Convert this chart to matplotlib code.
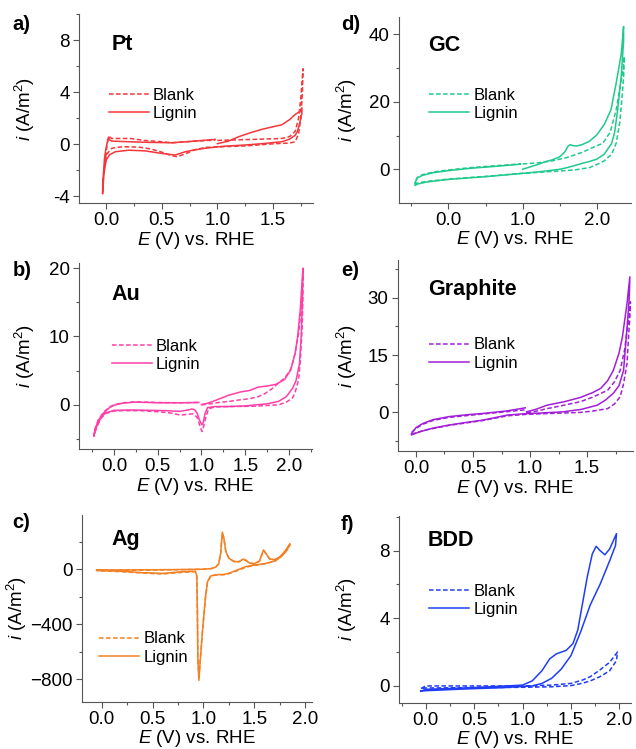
import matplotlib
matplotlib.use("Agg")
import matplotlib.pyplot as plt
from matplotlib.ticker import MultipleLocator, FuncFormatter

plt.rcParams['font.family'] = ['Liberation Sans', 'DejaVu Sans']
plt.rcParams['mathtext.fontset'] = 'custom'
plt.rcParams['mathtext.rm'] = 'Liberation Sans'
plt.rcParams['mathtext.it'] = 'Liberation Sans:italic'
plt.rcParams['mathtext.bf'] = 'Liberation Sans:bold'

# ---------------- data ----------------
series_labels = ["Blank", "Lignin"]
x_label = "$E$ (V) vs. RHE"
y_label = "$i$ (A/m$^2$)"

# Pt
pt_blank_E = [1.00, 1.20, 1.40, 1.58, 1.65, 1.70, 1.73, 1.75, 1.77,
              1.765, 1.75, 1.73, 1.70, 1.65, 1.52, 1.25, 0.90, 0.80, 0.72, 0.64, 0.58, 0.50, 0.40, 0.30, 0.15, 0.05, 0.00, -0.01,
              0.00, 0.015, 0.025, 0.05, 0.22, 0.34, 0.50, 0.59, 0.80, 0.98]
pt_blank_i = [0.30, 0.35, 0.40, 0.45, 0.60, 1.00, 2.00, 3.50, 5.80,
              4.00, 2.00, 0.80, 0.20, 0.10, 0.05, -0.12, -0.23, -0.40, -0.70, -0.95, -0.85, -0.60, -0.35, -0.22, -0.18, -0.30, -0.80, -1.50,
              -0.50, 0.30, 0.60, 0.45, 0.45, 0.30, 0.20, 0.12, 0.25, 0.33]
pt_lignin_E = [1.00, 1.10, 1.19, 1.30, 1.40, 1.50, 1.58, 1.65, 1.70, 1.74, 1.76,
               1.76, 1.74, 1.72, 1.70, 1.65, 1.58, 1.40, 1.25, 1.05, 0.89, 0.78, 0.71, 0.62, 0.55, 0.50, 0.35, 0.20, 0.08, 0.03, 0.00, -0.02, -0.033,
               -0.03, -0.015, 0.00, 0.02, 0.03, 0.05, 0.20, 0.40, 0.59, 0.80, 0.98]
pt_lignin_i = [0.05, 0.25, 0.58, 0.90, 1.15, 1.35, 1.50, 1.90, 2.30, 2.50, 2.80,
               2.40, 1.60, 1.00, 0.70, 0.40, 0.20, 0.05, -0.05, -0.15, -0.30, -0.45, -0.57, -0.82, -0.75, -0.70, -0.50, -0.45, -0.57, -0.80, -1.20, -2.20, -3.80,
               -2.80, -1.00, -0.20, 0.55, 0.35, 0.25, 0.20, 0.15, 0.12, 0.25, 0.38]

# Au
au_blank_E = [1.00, 1.10, 1.20, 1.31, 1.45, 1.55, 1.65, 1.72, 1.81, 1.88, 1.95, 2.02, 2.07, 2.11, 2.14, 2.16,
              2.16, 2.15, 2.13, 2.11, 2.07, 2.04, 1.97, 1.88, 1.60, 1.30, 1.15, 1.08, 1.05, 1.02, 1.005, 0.98, 0.95, 0.90, 0.83, 0.76, 0.65, 0.50, 0.30, 0.10, 0.00, -0.10, -0.15, -0.20, -0.23,
              -0.22, -0.18, -0.12, -0.05, 0.00, 0.10, 0.25, 0.50, 0.75, 0.97]
au_blank_i = [0.00, 0.15, 0.35, 0.50, 0.75, 0.90, 1.20, 1.60, 2.40, 3.20, 3.90, 5.20, 7.50, 10.5, 14.0, 19.5,
              16.0, 11.0, 6.50, 3.66, 1.80, 1.00, 0.40, 0.00, -0.20, -0.25, -0.30, -0.60, -1.80, -3.40, -3.90, -3.00, -1.80, -1.30, -1.40, -1.50, -1.20, -1.00, -0.85, -0.85, -0.90, -1.30, -2.00, -3.30, -4.50,
              -3.60, -2.20, -1.10, -0.30, 0.00, 0.30, 0.45, 0.35, 0.30, 0.35]
au_lignin_E = [1.00, 1.06, 1.15, 1.31, 1.45, 1.55, 1.65, 1.75, 1.85, 1.95, 2.02, 2.07, 2.10, 2.13, 2.16,
               2.155, 2.14, 2.12, 2.08, 2.04, 1.97, 1.88, 1.75, 1.50, 1.31, 1.15, 1.07, 1.04, 1.02, 1.005, 0.98, 0.95, 0.92, 0.89, 0.85, 0.75, 0.60, 0.40, 0.20, 0.00, -0.10, -0.15, -0.20, -0.23,
               -0.22, -0.18, -0.12, -0.05, 0.00, 0.10, 0.25, 0.50, 0.75, 0.97]
au_lignin_i = [0.05, 0.20, 0.60, 1.40, 1.90, 2.10, 2.60, 2.75, 3.00, 3.70, 5.10, 7.50, 10.0, 14.0, 20.0,
               16.0, 10.0, 6.00, 3.50, 2.40, 1.20, 0.50, 0.15, -0.15, -0.25, -0.25, -0.40, -1.30, -2.60, -2.93, -2.30, -1.20, -0.70, -0.60, -0.75, -0.95, -0.85, -0.80, -0.75, -0.80, -1.20, -1.90, -3.20, -4.60,
               -3.80, -2.30, -1.20, -0.40, -0.05, 0.25, 0.40, 0.30, 0.30, 0.35]

# Ag
ag_blank_E = [-0.05, 0.20, 0.50, 0.80, 1.00, 1.08, 1.12, 1.15, 1.17, 1.185, 1.20, 1.22, 1.25, 1.30, 1.35, 1.39, 1.42, 1.45, 1.50, 1.55, 1.57, 1.59, 1.61, 1.65, 1.70, 1.75, 1.80, 1.85,
              1.84, 1.80, 1.75, 1.70, 1.60, 1.50, 1.42, 1.35, 1.30, 1.25, 1.20, 1.12, 1.07, 1.04, 1.02, 0.99, 0.965, 0.955, 0.945, 0.94, 0.935, 0.92, 0.80, 0.60, 0.40, 0.20, 0.00, -0.05]
ag_blank_i = [-8, -8, -6, -3, 0, 5, 15, 40, 120, 260, 225, 130, 80, 58, 55, 72, 62, 45, 40, 58, 98, 135, 118, 75, 68, 88, 128, 180,
              160, 118, 82, 58, 38, 28, 15, -5, -20, -32, -40, -42, -52, -95, -210, -460, -700, -800, -640, -300, -50, -18, -22, -35, -28, -18, -12, -10]
ag_lignin_E = [-0.05, 0.20, 0.50, 0.80, 1.00, 1.08, 1.12, 1.15, 1.17, 1.185, 1.20, 1.22, 1.25, 1.30, 1.35, 1.39, 1.42, 1.45, 1.50, 1.55, 1.57, 1.59, 1.61, 1.65, 1.70, 1.75, 1.80, 1.85,
               1.84, 1.80, 1.75, 1.70, 1.60, 1.50, 1.42, 1.35, 1.30, 1.25, 1.20, 1.12, 1.07, 1.04, 1.02, 0.99, 0.965, 0.955, 0.945, 0.94, 0.935, 0.92, 0.80, 0.60, 0.40, 0.20, 0.00, -0.05]
ag_lignin_i = [-5, -5, -4, -2, 0, 5, 15, 40, 120, 270, 230, 130, 80, 55, 55, 74, 65, 45, 40, 60, 100, 140, 120, 75, 70, 90, 130, 185,
               165, 120, 85, 60, 40, 30, 20, 0, -15, -30, -38, -40, -50, -90, -200, -450, -700, -810, -650, -300, -50, -15, -18, -30, -25, -15, -10, -8]

# GC
gc_blank_E = [1.00, 1.20, 1.40, 1.60, 1.80, 1.95, 2.08, 2.18, 2.26, 2.31, 2.35, 2.37,
              2.36, 2.33, 2.31, 2.26, 2.20, 2.10, 2.04, 1.90, 1.70, 1.50, 1.00, 0.50, 0.00, -0.30, -0.45,
              -0.45, -0.42, -0.35, -0.20, 0.00, 0.30, 0.60, 0.98]
gc_blank_i = [1.6, 1.9, 2.5, 3.5, 5.0, 6.5, 7.7, 11.0, 17.6, 24.0, 29.0, 33.4,
              27.0, 19.0, 14.0, 7.7, 4.5, 2.5, 1.8, 0.5, -0.2, -0.5, -1.2, -2.1, -2.9, -3.6, -4.2,
              -3.8, -2.4, -1.6, -0.8, -0.2, 0.5, 1.0, 1.6]
gc_lignin_E = [1.00, 1.10, 1.20, 1.30, 1.40, 1.50, 1.57, 1.61, 1.64, 1.68, 1.73, 1.80, 1.90, 2.00, 2.10, 2.19, 2.26, 2.33, 2.36,
               2.36, 2.33, 2.28, 2.24, 2.20, 2.10, 2.00, 1.90, 1.81, 1.70, 1.60, 1.50, 1.20, 1.00, 0.50, 0.00, -0.30, -0.42, -0.45,
               -0.45, -0.42, -0.35, -0.20, 0.00, 0.30, 0.60, 0.97]
gc_lignin_i = [0.0, 0.7, 1.4, 2.2, 2.8, 3.7, 5.2, 6.8, 7.3, 7.0, 6.9, 7.3, 8.3, 10.2, 13.3, 17.6, 25.5, 34.4, 42.3,
               38.0, 28.0, 17.6, 11.0, 7.7, 4.5, 3.0, 2.3, 1.8, 1.1, 0.5, 0.0, -0.8, -1.2, -2.2, -3.0, -3.8, -4.4, -4.8,
               -4.0, -2.6, -1.8, -1.0, -0.4, 0.3, 0.8, 1.5]

# Graphite
gr_blank_E = [0.97, 1.05, 1.15, 1.30, 1.44, 1.55, 1.68, 1.74, 1.79, 1.83, 1.85, 1.875, 1.88,
              1.875, 1.86, 1.85, 1.82, 1.79, 1.74, 1.68, 1.55, 1.44, 1.15, 0.97, 0.80, 0.59, 0.29, 0.10, 0.00, -0.04,
              -0.04, 0.00, 0.06, 0.15, 0.29, 0.59, 0.80, 0.96]
gr_blank_i = [-0.1, 0.3, 1.0, 1.9, 2.8, 4.0, 5.8, 8.0, 11.0, 16.5, 21.5, 26.8, 29.0,
              25.0, 18.0, 12.8, 7.5, 4.1, 2.2, 1.0, 0.35, 0.0, -0.3, -0.5, -0.9, -2.1, -3.4, -4.5, -5.3, -5.8,
              -5.3, -4.2, -3.1, -2.1, -1.3, -0.4, 0.2, 0.7]
gr_lignin_E = [0.97, 1.05, 1.15, 1.30, 1.44, 1.55, 1.62, 1.68, 1.73, 1.78, 1.81, 1.85, 1.875,
               1.87, 1.85, 1.82, 1.78, 1.73, 1.66, 1.59, 1.45, 1.29, 1.10, 0.97, 0.80, 0.59, 0.40, 0.29, 0.15, 0.03, -0.04,
               -0.04, 0.00, 0.06, 0.15, 0.29, 0.45, 0.59, 0.80, 0.958]
gr_lignin_i = [0.16, 0.8, 1.9, 2.8, 3.9, 5.2, 6.3, 8.3, 11.0, 15.5, 19.8, 28.5, 35.5,
               30.0, 22.0, 11.0, 7.0, 5.0, 3.2, 1.9, 0.8, 0.16, -0.15, -0.3, -0.7, -2.0, -2.8, -3.3, -4.1, -5.1, -5.9,
               -5.6, -4.0, -2.9, -1.9, -1.1, -0.6, -0.26, 0.4, 1.2]

# BDD
bdd_blank_E = [-0.05, 0.00, 0.50, 1.00, 1.30, 1.50, 1.62, 1.70, 1.80, 1.90, 1.98,
               1.97, 1.90, 1.80, 1.70, 1.62, 1.50, 1.30, 1.00, 0.50, 0.00, -0.05]
bdd_blank_i = [-0.15, 0.00, 0.00, 0.00, 0.05, 0.15, 0.35, 0.55, 0.95, 1.40, 2.00,
               1.50, 0.90, 0.55, 0.30, 0.16, 0.02, -0.05, -0.08, -0.10, -0.12, -0.15]
bdd_lignin_E = [-0.05, 0.00, 0.50, 1.00, 1.10, 1.20, 1.28, 1.35, 1.45, 1.52, 1.57, 1.62, 1.67, 1.72, 1.76, 1.80, 1.85, 1.90, 1.97,
                1.96, 1.90, 1.80, 1.70, 1.60, 1.50, 1.40, 1.30, 1.20, 1.10, 0.80, 0.40, 0.00, -0.05]
bdd_lignin_i = [-0.30, -0.20, -0.10, 0.05, 0.30, 0.90, 1.60, 1.90, 2.10, 2.50, 3.30, 4.90, 6.50, 7.80, 8.25, 8.00, 7.75, 8.10, 9.00,
                8.30, 7.40, 6.00, 4.80, 3.20, 1.80, 1.00, 0.45, 0.15, 0.00, -0.10, -0.18, -0.28, -0.30]

# --------------- layout ----------------
W, H = 636, 749
fig = plt.figure(figsize=(W / 100, H / 100), dpi=100)


def make_ax(l, r, t, b):
    return fig.add_axes([l / W, (H - b) / H, (r - l) / W, (b - t) / H])


panels = [
    dict(box=(79, 313, 14, 203), label="a)", name="Pt", color="#F5363A",
         data=(pt_blank_E, pt_blank_i, pt_lignin_E, pt_lignin_i),
         xlim=(-0.245, 1.86), ylim=(-4.5, 10.0), xmaj=0.5, xmin=0.25, ymaj=4, ymin=2,
         hyphen=True, title_pos=(0.14, 0.836), leg=(0.128, 0.577, 0.466), lab_y=24, ylab_x=37),
    dict(box=(79, 311.7, 263.3, 449.3), label="b)", name="Au", color="#FF3FA8",
         data=(au_blank_E, au_blank_i, au_lignin_E, au_lignin_i),
         xlim=(-0.40, 2.26), ylim=(-6.5, 20.7), xmaj=0.5, xmin=0.25, ymaj=10, ymin=5,
         hyphen=False, title_pos=(0.14, 0.83), leg=(0.14, 0.561, 0.449), lab_y=271, ylab_x=37),
    dict(box=(81.7, 312.3, 515, 701.7), label="c)", name="Ag", color="#F28125",
         data=(ag_blank_E, ag_blank_i, ag_lignin_E, ag_lignin_i),
         xlim=(-0.197, 2.07), ylim=(-965, 395), xmaj=0.5, xmin=0.25, ymaj=400, ymin=200,
         hyphen=False, title_pos=(0.13, 0.871), leg=(0.075, 0.345, 0.229), lab_y=523, ylab_x=29),
    dict(box=(398.7, 631, 16.7, 202.7), label="d)", name="GC", color="#20C98C",
         data=(gc_blank_E, gc_blank_i, gc_lignin_E, gc_lignin_i),
         xlim=(-0.67, 2.46), ylim=(-9.9, 45.2), xmaj=1.0, xmin=0.5, ymaj=20, ymin=10,
         hyphen=False, title_pos=(0.125, 0.845), leg=(0.132, 0.583, 0.472), lab_y=25, ylab_x=359),
    dict(box=(397.7, 632.7, 260, 451), label="e)", name="Graphite", color="#A21ED8",
         data=(gr_blank_E, gr_blank_i, gr_lignin_E, gr_lignin_i),
         xlim=(-0.16, 1.90), ylim=(-10.1, 39.9), xmaj=0.5, xmin=0.25, ymaj=15, ymin=7.5,
         hyphen=False, title_pos=(0.128, 0.843), leg=(0.134, 0.56, 0.455), lab_y=271, ylab_x=359),
    dict(box=(398.7, 631, 515.7, 702.7), label="f)", name="BDD", color="#1F3DF5",
         data=(bdd_blank_E, bdd_blank_i, bdd_lignin_E, bdd_lignin_i),
         xlim=(-0.28, 2.12), ylim=(-0.99, 10.06), xmaj=0.5, xmin=0.25, ymaj=4, ymin=2,
         hyphen=False, title_pos=(0.125, 0.87), leg=(0.132, 0.603, 0.49), lab_y=524, ylab_x=359),
]

spine_c = "#555555"
for p in panels:
    l, r, t, b = p["box"]
    ax = make_ax(l, r, t, b)
    bE, bi, lE, li = p["data"]
    ax.plot(bE, bi, color=p["color"], lw=1.1, ls=(0, (3, 1.6)), label=series_labels[0])
    ax.plot(lE, li, color=p["color"], lw=1.1, ls="-", label=series_labels[1])
    ax.set_xlim(*p["xlim"])
    ax.set_ylim(*p["ylim"])
    for s in ("top", "right"):
        ax.spines[s].set_visible(False)
    for s in ("left", "bottom"):
        ax.spines[s].set_color(spine_c)
        ax.spines[s].set_linewidth(0.8)
    ax.xaxis.set_major_locator(MultipleLocator(p["xmaj"]))
    ax.xaxis.set_minor_locator(MultipleLocator(p["xmin"]))
    ax.yaxis.set_major_locator(MultipleLocator(p["ymaj"]))
    ax.yaxis.set_minor_locator(MultipleLocator(p["ymin"]))
    ax.xaxis.set_major_formatter(FuncFormatter(lambda v, pos: "%.1f" % v))
    if p["hyphen"]:
        ax.yaxis.set_major_formatter(FuncFormatter(lambda v, pos: "%d" % round(v)))
    else:
        ax.yaxis.set_major_formatter(FuncFormatter(lambda v, pos: ("%d" % round(v)).replace("-", "\u2212")))
    ax.tick_params(which="major", direction="out", length=4, width=0.8, color=spine_c,
                   labelsize=13.5, pad=2.5)
    ax.tick_params(which="minor", direction="out", length=2.5, width=0.8, color=spine_c)
    ax.set_xlabel(x_label, fontsize=13.5, labelpad=0.5)
    ax.set_ylabel(y_label, fontsize=13.5)
    ax.yaxis.set_label_coords((p["ylab_x"] - l) / (r - l), 0.5)
    ax.text(p["title_pos"][0], p["title_pos"][1], p["name"], transform=ax.transAxes,
            fontsize=15.5, fontweight="bold", ha="left", va="center")
    lx, y1, y2 = p["leg"]
    ax.legend(loc="center left", bbox_to_anchor=(lx, (y1 + y2) / 2), frameon=False,
              fontsize=12, handlelength=2.4, handletextpad=0.25, labelspacing=0.2,
              borderpad=0, borderaxespad=0)
    fig.text((12.7 if l < 300 else 341) / W, 1 - p["lab_y"] / H, p["label"],
             fontsize=14.5, fontweight="bold", ha="left", va="center")

fig.savefig("out.png", dpi=100)
